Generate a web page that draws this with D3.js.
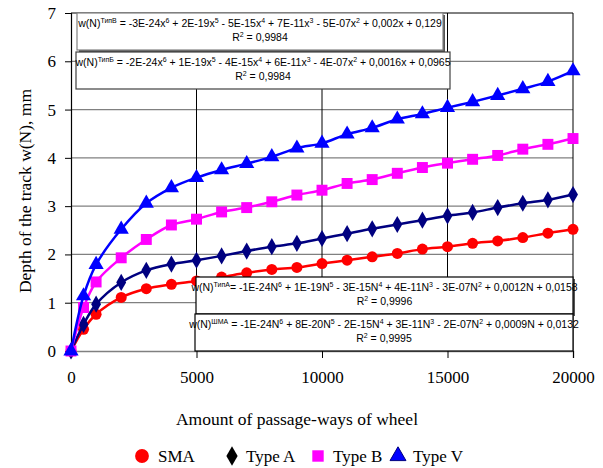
<!DOCTYPE html>
<html><head><meta charset="utf-8">
<script src="https://cdn.jsdelivr.net/npm/d3@7"></script>
<style>
body{margin:0;background:#fff;}
svg{display:block;}
</style></head>
<body>
<svg id="chart" width="603" height="468"></svg>
<script>
const passes = [0,500,1000,2000,3000,4000,5000,6000,7000,8000,9000,10000,11000,12000,13000,14000,15000,16000,17000,18000,19000,20000];
const sma   = [0,0.45,0.76,1.11,1.29,1.38,1.45,1.53,1.62,1.69,1.73,1.81,1.88,1.95,2.02,2.11,2.16,2.23,2.28,2.35,2.44,2.52];
const typeA = [0,0.55,0.97,1.42,1.67,1.80,1.88,1.97,2.07,2.16,2.23,2.33,2.43,2.53,2.62,2.71,2.80,2.87,2.97,3.06,3.13,3.24];
const typeB = [0,0.90,1.43,1.93,2.31,2.61,2.73,2.88,2.97,3.09,3.23,3.33,3.47,3.55,3.68,3.80,3.89,3.97,4.05,4.18,4.28,4.40];
const typeV = [0,1.14,1.79,2.52,3.06,3.38,3.59,3.75,3.88,4.02,4.20,4.30,4.49,4.62,4.80,4.91,5.04,5.16,5.29,5.43,5.58,5.80];
const seriesNames = ["SMA","Type A","Type B","Type V"];
const xTicks = [0,5000,10000,15000,20000];
const yTicks = [0,1,2,3,4,5,6,7];
const xTitle = "Amount of passage-ways of wheel";
const yTitle = "Depth of the track w(N), mm";
// trendline equation labels: [text, isSuperscript]
const eqV = [["w(N)",0],["ТипВ",1],["  = -3E-24x",0],["6",1],[" + 2E-19x",0],["5",1],[" - 5E-15x",0],["4",1],[" + 7E-11x",0],["3",1],[" - 5E-07x",0],["2",1],[" + 0,002x + 0,129",0]];
const eqB = [["w(N)",0],["ТипБ",1],[" = -2E-24x",0],["6",1],[" + 1E-19x",0],["5",1],[" - 4E-15x",0],["4",1],[" + 6E-11x",0],["3",1],[" - 4E-07x",0],["2",1],[" + 0,0016x + 0,0965",0]];
const eqA = [["w(N)",0],["ТипА",1],["= -1E-24N",0],["6",1],[" + 1E-19N",0],["5",1],[" - 3E-15N",0],["4",1],[" + 4E-11N",0],["3",1],[" - 3E-07N",0],["2",1],[" + 0,0012N + 0,0158",0]];
const eqS = [["w(N)",0],["ШМА",1],[" = -1E-24N",0],["6",1],[" + 8E-20N",0],["5",1],[" - 2E-15N",0],["4",1],[" + 3E-11N",0],["3",1],[" - 2E-07N",0],["2",1],[" + 0,0009N + 0,0132",0]];
const r2Values = ["0,9984","0,9984","0,9996","0,9995"];

const svg = d3.select("#chart");
const L=71, R=573, T=13, B=351;
const x = d3.scaleLinear().domain([0,20000]).range([L,R]);
const y = d3.scaleLinear().domain([0,7]).range([B,T]);
const serif = "'Liberation Serif','Times New Roman',serif";
const sans = "'Liberation Sans',Arial,sans-serif";

// gridlines
svg.append("g").selectAll("line").data(yTicks.filter(d=>d>0 && d<7)).join("line")
  .attr("x1",L).attr("x2",R).attr("y1",d=>y(d)).attr("y2",d=>y(d))
  .attr("stroke","#808080").attr("stroke-width",1.2);
svg.append("g").selectAll("line").data(xTicks.filter(d=>d>0)).join("line")
  .attr("x1",d=>x(d)).attr("x2",d=>x(d)).attr("y1",T).attr("y2",B)
  .attr("stroke","#000").attr("stroke-width",1);
svg.append("line").attr("x1",L).attr("x2",R).attr("y1",T).attr("y2",T).attr("stroke","#000");

// axes
const yAxis = svg.append("g").attr("transform",`translate(${L},0)`)
  .call(d3.axisLeft(y).tickValues(yTicks).tickSize(6).tickPadding(9).tickFormat(d3.format("d")));
yAxis.select(".domain").attr("stroke","#000").attr("stroke-width",1.2);
yAxis.selectAll(".tick line").attr("stroke","#000");
yAxis.selectAll("text").attr("font-family",serif).attr("font-size",17).attr("fill","#000");

const xAxis = svg.append("g").attr("transform",`translate(0,${B})`)
  .call(d3.axisBottom(x).tickValues(xTicks).tickSize(7).tickPadding(13).tickFormat(d3.format("d")));
xAxis.select(".domain").attr("stroke","#808080").attr("stroke-width",1.5);
xAxis.selectAll(".tick line").attr("stroke","#000");
xAxis.selectAll("text").attr("font-family",serif).attr("font-size",17).attr("fill","#000");

// titles
svg.append("text").attr("x",297).attr("y",425).attr("text-anchor","middle")
  .attr("font-family",serif).attr("font-size",17.5).text(xTitle);
svg.append("text").attr("transform","translate(31,191) rotate(-90)").attr("text-anchor","middle")
  .attr("font-family",serif).attr("font-size",17.5).text(yTitle);

// series
const series = [
  {name:seriesNames[0], vals:sma,   color:"#ff0000", mcolor:"#ff0000", legColor:"#ff0000", sym:d3.symbolCircle, size:95},
  {name:seriesNames[1], vals:typeA, color:"#000080", mcolor:"#000080", legColor:"#000000", sym:d3.symbolDiamond, size:85},
  {name:seriesNames[2], vals:typeB, color:"#ff00ff", mcolor:"#ff00ff", legColor:"#ff00ff", sym:d3.symbolSquare, size:120},
  {name:seriesNames[3], vals:typeV, color:"#0000ff", mcolor:"#0000ff", legColor:"#0000ff", sym:d3.symbolTriangle, size:100}
];
const line = d3.line().x(d=>x(d[0])).y(d=>y(d[1])).curve(d3.curveCatmullRom);
series.forEach(s=>{
  const pts = passes.map((p,i)=>[p,s.vals[i]]);
  svg.append("path").datum(pts).attr("d",line).attr("fill","none")
    .attr("stroke",s.color).attr("stroke-width",2.5);
  svg.append("g").selectAll("path").data(pts).join("path")
    .attr("transform",d=>`translate(${x(d[0])},${y(d[1])})`)
    .attr("d",d3.symbol().type(s.sym).size(s.size)).attr("fill",s.mcolor);
});

// equation boxes
function eqBox(parts, r2, bx, by, bw, bh, shadow, stroke){
  const g = svg.append("g");
  if(shadow){
    g.append("rect").attr("x",bx+2).attr("y",by+2).attr("width",bw).attr("height",bh).attr("fill","#555");
  }
  g.append("rect").attr("x",bx).attr("y",by).attr("width",bw).attr("height",bh)
    .attr("fill","#fff").attr("stroke",stroke).attr("stroke-width",1.2);
  const t = g.append("text").attr("x",bx+bw/2).attr("y",by+14).attr("text-anchor","middle")
    .attr("font-family",sans).attr("font-size",10.5).attr("fill","#000");
  let shifted=false;
  parts.forEach(p=>{
    const ts = t.append("tspan").text(p[0]);
    if(p[1]){ ts.attr("font-size",7).attr("dy",-4); shifted=true; }
    else if(shifted){ ts.attr("dy",4); shifted=false; }
  });
  const rt = g.append("text").attr("x",bx+bw/2).attr("y",by+28).attr("text-anchor","middle")
    .attr("font-family",sans).attr("font-size",10.5).attr("fill","#000");
  rt.append("tspan").text("R");
  rt.append("tspan").text("2").attr("font-size",7).attr("dy",-4);
  rt.append("tspan").text(" = "+r2).attr("dy",4);
}
eqBox(eqV, r2Values[0], 77, 13, 366, 37, true, "#808080");
eqBox(eqB, r2Values[1], 76, 52, 374, 37, false, "#404040");
eqBox(eqA, r2Values[2], 196, 277, 377, 37, true, "#000");
eqBox(eqS, r2Values[3], 195, 314, 378, 37, false, "#000");

// legend
const legX = [142,232,318,398];
const legTX = [158,246,333,413];
series.forEach((s,i)=>{
  svg.append("path").attr("transform",`translate(${legX[i]},456)`)
    .attr("d",d3.symbol().type(s.sym).size(i==0?150:(i==2?130:110))).attr("fill",s.legColor)
    .attr("stroke", i==3?"#000080":"none").attr("stroke-width",1);
  svg.append("text").attr("x",legTX[i]).attr("y",462).attr("font-family",serif).attr("font-size",17)
    .attr("fill","#000").text(s.name);
});
</script>
</body></html>
